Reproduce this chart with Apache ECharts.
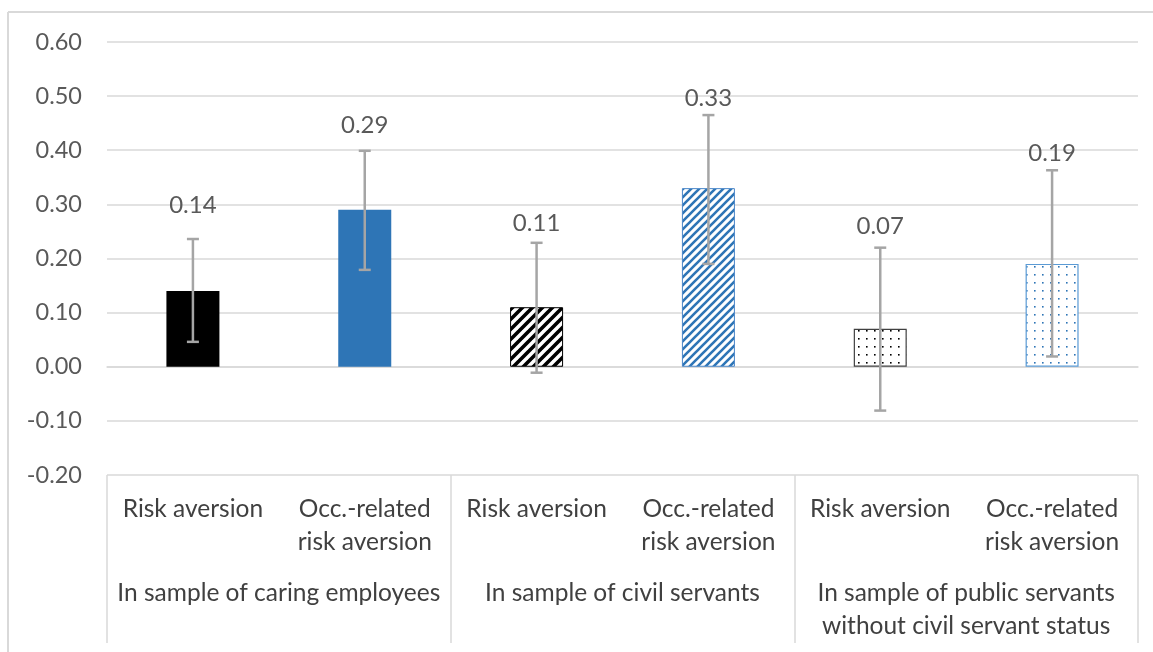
<!DOCTYPE html>
<html>
<head>
<meta charset="utf-8">
<script src="https://cdn.jsdelivr.net/npm/echarts@6/dist/echarts.min.js"></script>
<style>
  html, body { margin: 0; padding: 0; background: #fff; }
  #chart { width: 1153px; height: 652px; }
</style>
</head>
<body>
<div id="chart"></div>
<script>
// Measures of risk aversion by sample, with confidence intervals
const categories = [
  'Risk aversion', 'Occ.-related\nrisk aversion',
  'Risk aversion', 'Occ.-related\nrisk aversion',
  'Risk aversion', 'Occ.-related\nrisk aversion'
];
const groups = [
  'In sample of caring employees',
  'In sample of civil servants',
  'In sample of public servants\nwithout civil servant status'
];
const values  = [0.14, 0.29, 0.11, 0.33, 0.07, 0.19];
const errLow  = [0.046, 0.179, -0.011, 0.19, -0.081, 0.019];
const errHigh = [0.236, 0.399, 0.229, 0.465, 0.220, 0.363];
const yMin = -0.2, yMax = 0.6, yStep = 0.1;

const FONT = 'Lato';
const BLUE = '#2E75B6';

// tiled fills for the hatched and dotted bars
function stripes(color, size, width) {
  const c = document.createElement('canvas');
  c.width = c.height = size;
  const g = c.getContext('2d');
  g.fillStyle = '#fff';
  g.fillRect(0, 0, size, size);
  g.strokeStyle = color;
  g.lineWidth = width;
  g.beginPath();
  for (let k = -1; k <= 1; k++) {
    g.moveTo(k * size - 1, size + 1);
    g.lineTo(k * size + size + 1, -1);
  }
  g.stroke();
  return c;
}
function dots(color, size, dot) {
  const c = document.createElement('canvas');
  c.width = c.height = size;
  const g = c.getContext('2d');
  g.fillStyle = '#fff';
  g.fillRect(0, 0, size, size);
  g.fillStyle = color;
  g.fillRect(2, 2, dot, dot);
  return c;
}

const fills = [
  { color: '#000000', borderColor: '#000000', borderWidth: 0 },
  { color: BLUE, borderColor: BLUE, borderWidth: 0 },
  { color: { image: stripes('#000000', 10, 3.6), repeat: 'repeat' }, borderColor: '#000000', borderWidth: 1 },
  { color: { image: stripes(BLUE, 8, 2.6), repeat: 'repeat' }, borderColor: '#4A86C8', borderWidth: 1 },
  { color: { image: dots('#000000', 8, 1.6), repeat: 'repeat' }, borderColor: '#404040', borderWidth: 1.2 },
  { color: { image: dots(BLUE, 8, 1.6), repeat: 'repeat' }, borderColor: '#5B9BD5', borderWidth: 1.2 }
];
// distance of each value label above its bar
const labelGap = [74, 73, 72, 78, 91, 99];

const chart = echarts.init(document.getElementById('chart'), null, { renderer: 'canvas' });

chart.setOption({
  animation: false,
  backgroundColor: '#ffffff',
  grid: { left: 107, right: 15, top: 42, bottom: 177, containLabel: false },
  graphic: [
    { type: 'line', shape: { x1: 8, y1: 12, x2: 1153, y2: 12 }, style: { stroke: '#D9D9D9', lineWidth: 2 }, silent: true },
    { type: 'line', shape: { x1: 8, y1: 12, x2: 8, y2: 652 }, style: { stroke: '#D9D9D9', lineWidth: 2 }, silent: true }
  ],
  xAxis: [
    {
      type: 'category',
      data: categories,
      position: 'bottom',
      axisLine: { show: true, lineStyle: { color: '#D9D9D9', width: 1.5 } },
      axisTick: { show: false },
      axisLabel: {
        interval: 0, margin: 18, color: '#404040',
        fontFamily: FONT, fontSize: 24.5, lineHeight: 33
      },
      splitLine: { show: false }
    },
    {
      type: 'category',
      data: groups,
      position: 'bottom',
      axisLine: { show: false },
      axisTick: { show: true, length: 168, interval: 0, lineStyle: { color: '#D9D9D9', width: 1.5 } },
      axisLabel: {
        interval: 0, margin: 102, color: '#404040',
        fontFamily: FONT, fontSize: 24.5, lineHeight: 33
      },
      splitLine: { show: false }
    }
  ],
  yAxis: {
    type: 'value',
    min: yMin, max: yMax, interval: yStep,
    axisLine: { show: false },
    axisTick: { show: false },
    axisLabel: {
      margin: 25, color: '#595959', fontFamily: FONT, fontSize: 23.5,
      formatter: v => v.toFixed(2)
    },
    splitLine: { lineStyle: { color: '#D9D9D9', width: 1.5 } }
  },
  series: [
    {
      type: 'bar',
      xAxisIndex: 0,
      barWidth: 53,
      z: 2,
      data: values.map((v, i) => ({
        value: v,
        itemStyle: fills[i],
        label: { distance: labelGap[i] }
      })),
      label: {
        show: true, position: 'top', color: '#595959',
        fontFamily: FONT, fontSize: 24,
        formatter: p => p.value.toFixed(2)
      }
    },
    {
      type: 'custom',
      xAxisIndex: 0,
      z: 3,
      data: values.map((v, i) => [i, errLow[i], errHigh[i]]),
      renderItem: (params, api) => {
        const lo = api.coord([api.value(0), api.value(1)]);
        const hi = api.coord([api.value(0), api.value(2)]);
        const cap = 6;
        const style = { stroke: '#A5A5A5', lineWidth: 2.5 };
        return {
          type: 'group',
          children: [
            { type: 'line', shape: { x1: lo[0], y1: lo[1], x2: hi[0], y2: hi[1] }, style },
            { type: 'line', shape: { x1: hi[0] - cap, y1: hi[1], x2: hi[0] + cap, y2: hi[1] }, style },
            { type: 'line', shape: { x1: lo[0] - cap, y1: lo[1], x2: lo[0] + cap, y2: lo[1] }, style }
          ]
        };
      }
    }
  ]
});
</script>
</body>
</html>
